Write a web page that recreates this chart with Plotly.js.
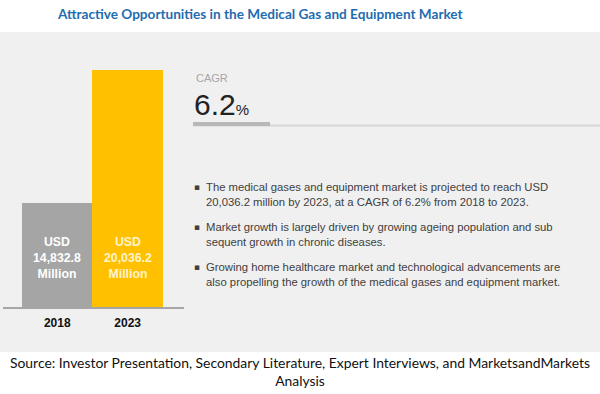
<!DOCTYPE html>
<html>
<head>
<meta charset="utf-8">
<script src="https://cdn.plot.ly/plotly-3.0.1.min.js"></script>
<style>html,body{margin:0;padding:0;background:#fff;}#chart{width:600px;height:394px;}</style>
</head>
<body>
<div id="chart"></div>
<script>
var years = ["2018", "2023"];
var marketValues = [14832.8, 20036.2];
var barColors = ["#a5a5a5", "#ffc000"];
var labelColors = ["#ffffff", "#fff4cc"];
var cagrValue = "6.2";
var titleText = "Attractive Opportunities in the Medical Gas and Equipment Market";
var bullets = [
  "The medical gases and equipment market is projected to reach USD<br>20,036.2 million by 2023, at a CAGR of 6.2% from 2018 to 2023.",
  "Market growth is largely driven by growing ageing population and sub<br>sequent growth in chronic diseases.",
  "Growing home healthcare market and technological advancements are<br>also propelling the growth of the medical gases and equipment market."
];
var sourceText = "Source: Investor Presentation, Secondary Literature, Expert Interviews, and MarketsandMarkets<br>Analysis";

function fmt(v) {
  return v.toLocaleString("en-US", {minimumFractionDigits: 1, maximumFractionDigits: 1});
}

var W = 600, H = 394;
function px(x) { return x / W; }
function py(y) { return 1 - y / H; }

var trace = {
  type: "bar",
  x: years,
  y: marketValues,
  marker: {color: barColors, line: {width: 0}},
  hoverinfo: "none",
  textposition: "none"
};

var annotations = [];
annotations.push({
  xref: "paper", yref: "paper", x: px(260), y: py(14), xanchor: "center", yanchor: "middle",
  text: titleText, showarrow: false,
  font: {family: "Lato, Liberation Sans, sans-serif", size: 13.6, color: "#1f6cb0", weight: "bold"}
});
years.forEach(function (yr, i) {
  annotations.push({
    xref: "x", yref: "paper", x: i, y: py(258), xanchor: "center", yanchor: "middle",
    text: "USD<br>" + fmt(marketValues[i]) + "<br>Million", showarrow: false,
    font: {family: "Liberation Sans, Arial, sans-serif", size: 12.3, color: labelColors[i], weight: "bold"}
  });
});
annotations.push({
  xref: "paper", yref: "paper", x: px(194), y: py(78), xanchor: "left", yanchor: "middle",
  text: "CAGR", showarrow: false,
  font: {family: "Liberation Sans, Arial, sans-serif", size: 11, color: "#a6a6a6"}
});
annotations.push({
  xref: "paper", yref: "paper", x: px(192), y: py(104), xanchor: "left", yanchor: "middle",
  text: cagrValue + "<span style='font-size:15px'>%</span>", showarrow: false,
  font: {family: "Liberation Sans, Arial, sans-serif", size: 30, color: "#222222"}
});
var bulletY = [194.5, 234.5, 274.5];
bullets.forEach(function (b, i) {
  annotations.push({
    xref: "paper", yref: "paper", x: px(192), y: py(bulletY[i] - 7.5), xanchor: "left", yanchor: "middle",
    text: "\u25AA", showarrow: false,
    font: {family: "DejaVu Sans, sans-serif", size: 9, color: "#404040"}
  });
  annotations.push({
    xref: "paper", yref: "paper", x: px(204), y: py(bulletY[i]), xanchor: "left", yanchor: "middle",
    text: b, showarrow: false, align: "left",
    font: {family: "Liberation Sans, Arial, sans-serif", size: 11.3, color: "#404040"}
  });
});
annotations.push({
  xref: "paper", yref: "paper", x: px(300), y: py(371), xanchor: "center", yanchor: "middle",
  text: sourceText, showarrow: false, align: "center",
  font: {family: "Lato, Liberation Sans, sans-serif", size: 13.9, color: "#111111"}
});

var shapes = [
  {type: "rect", xref: "paper", yref: "paper", x0: 0, x1: 1, y0: py(352), y1: py(32),
   fillcolor: "#f0f0f0", line: {width: 0}, layer: "below"},
  {type: "line", xref: "paper", yref: "paper", x0: px(193), x1: 1, y0: py(125.5), y1: py(125.5),
   line: {color: "#d6d6d6", width: 2}},
  {type: "line", xref: "paper", yref: "paper", x0: px(193), x1: px(270), y0: py(124), y1: py(124),
   line: {color: "#b8b8b8", width: 4}}
];

var layout = {
  width: W, height: H,
  margin: {l: 0, r: 0, t: 0, b: 0, pad: 0},
  paper_bgcolor: "#ffffff",
  plot_bgcolor: "rgba(0,0,0,0)",
  showlegend: false,
  bargap: 0,
  xaxis: {
    domain: [px(3), px(184)],
    range: [-0.77, 1.8],
    type: "category",
    showline: true, linecolor: "#a6a6a6", linewidth: 1.5,
    showgrid: false, zeroline: false, ticks: "",
    ticklabelstandoff: 4,
    tickfont: {family: "Liberation Sans, Arial, sans-serif", size: 12, color: "#111111", weight: "bold"},
    fixedrange: true
  },
  yaxis: {
    domain: [py(307), py(70)],
    range: [10764, 20036.2],
    visible: false, showgrid: false, zeroline: false, fixedrange: true
  },
  annotations: annotations,
  shapes: shapes
};

Plotly.newPlot("chart", [trace], layout, {displayModeBar: false, staticPlot: true});
</script>
</body>
</html>
